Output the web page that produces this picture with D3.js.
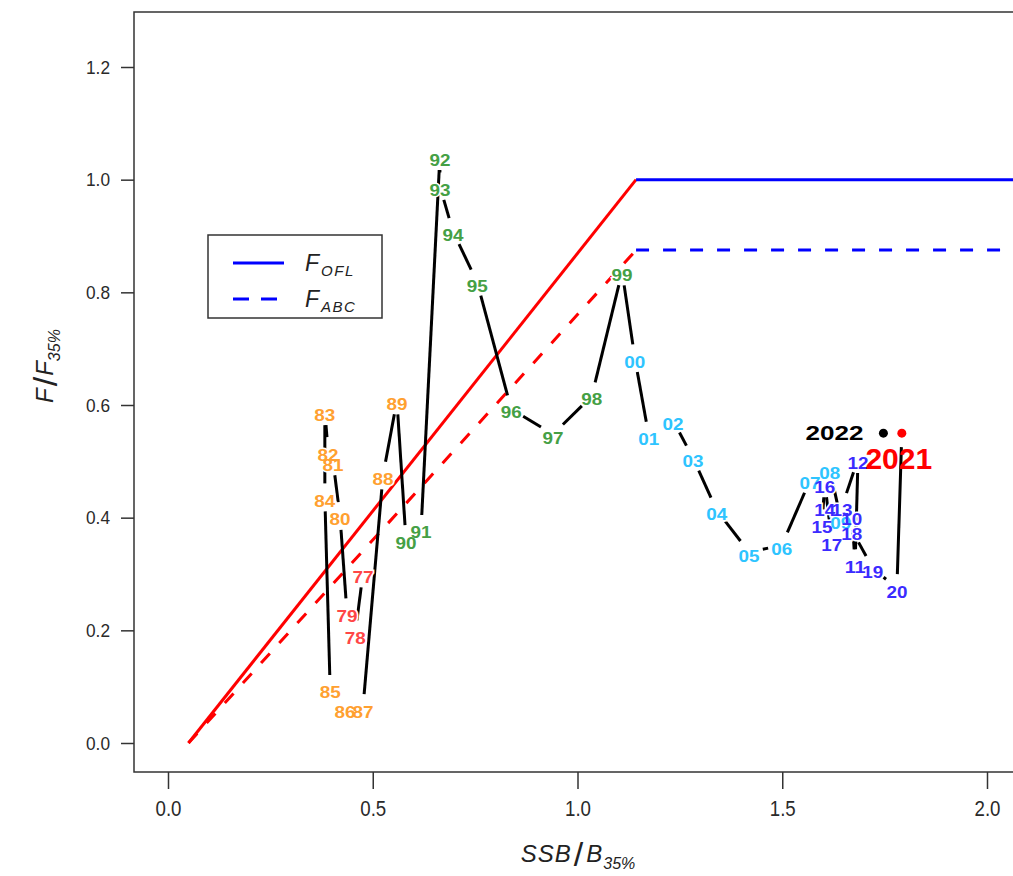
<!DOCTYPE html>
<html>
<head>
<meta charset="utf-8">
<script src="https://cdn.jsdelivr.net/npm/d3@7"></script>
<style>
  body { margin: 0; background: #fff; }
  svg { display: block; font-family: "Liberation Sans", Arial, sans-serif; }
</style>
</head>
<body>
<div id="chart"></div>
<script>
// assessment years, stock size and fishing mortality ratios
var years = [1977, 1978, 1979, 1980, 1981, 1982, 1983, 1984, 1985, 1986, 1987, 1988, 1989,
             1990, 1991, 1992, 1993, 1994, 1995, 1996, 1997, 1998, 1999,
             2000, 2001, 2002, 2003, 2004, 2005, 2006, 2007, 2008, 2009,
             2010, 2011, 2012, 2013, 2014, 2015, 2016, 2017, 2018, 2019, 2020, 2021, 2022];
var ssbRatio = [0.476, 0.457, 0.437, 0.420, 0.403, 0.391, 0.383, 0.383, 0.396, 0.432, 0.476, 0.525, 0.559,
                0.581, 0.618, 0.664, 0.664, 0.696, 0.755, 0.838, 0.940, 1.035, 1.109,
                1.140, 1.174, 1.233, 1.282, 1.340, 1.419, 1.499, 1.568, 1.616, 1.643,
                1.670, 1.678, 1.685, 1.646, 1.604, 1.597, 1.604, 1.621, 1.670, 1.721, 1.780, 1.792, 1.747];
var fRatio = [0.301, 0.193, 0.232, 0.403, 0.500, 0.518, 0.589, 0.436, 0.096, 0.062, 0.062, 0.475, 0.608,
              0.362, 0.380, 1.042, 0.988, 0.908, 0.818, 0.593, 0.548, 0.616, 0.837,
              0.683, 0.546, 0.573, 0.506, 0.413, 0.339, 0.351, 0.467, 0.486, 0.397,
              0.403, 0.319, 0.504, 0.420, 0.420, 0.390, 0.461, 0.358, 0.378, 0.310, 0.275, 0.550, 0.550];

// harvest control rule
var ruleX = [0.05, 1.143, 2.3];
var oflY = [0, 1.0, 1.0];
var abcY = [0, 0.875, 0.875];

var xTicks = [0, 0.5, 1.0, 1.5, 2.0];
var yTicks = [0, 0.2, 0.4, 0.6, 0.8, 1.0, 1.2];

var W = 1013, H = 876;
var box = {left: 134, top: 12, right: 1018, bottom: 772};

var x = d3.scaleLinear().domain([0, 2]).range([168, 987]);
var y = d3.scaleLinear().domain([0, 1.2]).range([743, 67]);

function yearColor(yr) {
    if (yr < 1980) return "#ff4646";
    if (yr < 1990) return "#ffa030";
    if (yr < 2000) return "#45a045";
    if (yr < 2010) return "#2ec4ff";
    return "#3b2bff";
}

var svg = d3.select("#chart").append("svg").attr("width", W).attr("height", H);

svg.append("defs").append("clipPath").attr("id", "plotclip")
    .append("rect").attr("x", box.left).attr("y", box.top)
    .attr("width", box.right - box.left).attr("height", box.bottom - box.top);

var plot = svg.append("g").attr("clip-path", "url(#plotclip)");

// control rule lines: red below the break, blue above
var rule = ruleX.map(function(d, i) { return {x: d, ofl: oflY[i], abc: abcY[i]}; });
var oflLine = d3.line().x(function(d) { return x(d.x); }).y(function(d) { return y(d.ofl); });
var abcLine = d3.line().x(function(d) { return x(d.x); }).y(function(d) { return y(d.abc); });

plot.append("path").datum(rule.slice(0, 2)).attr("d", oflLine)
    .attr("fill", "none").attr("stroke", "#ff0000").attr("stroke-width", 3);
plot.append("path").datum(rule.slice(1)).attr("d", oflLine)
    .attr("fill", "none").attr("stroke", "#0000ff").attr("stroke-width", 3);
plot.append("path").datum(rule.slice(0, 2)).attr("d", abcLine)
    .attr("fill", "none").attr("stroke", "#ff0000").attr("stroke-width", 3)
    .attr("stroke-dasharray", "13,14");
plot.append("path").datum(rule.slice(1)).attr("d", abcLine)
    .attr("fill", "none").attr("stroke", "#0000ff").attr("stroke-width", 3)
    .attr("stroke-dasharray", "13,14");

// trajectory, drawn R type="b" style with a gap round each point
var pts = years.map(function(yr, i) { return {year: yr, px: x(ssbRatio[i]), py: y(fRatio[i])}; });
var gap = 14;
var segs = [];
for (var i = 1; i < pts.length; i++) {
    var a = pts[i - 1], b = pts[i];
    var dx = b.px - a.px, dy = b.py - a.py, len = Math.sqrt(dx * dx + dy * dy);
    if (len <= 2 * gap + 1) continue;
    var ux = dx / len, uy = dy / len;
    segs.push({x1: a.px + ux * gap, y1: a.py + uy * gap, x2: b.px - ux * gap, y2: b.py - uy * gap});
}
plot.selectAll(".seg").data(segs).enter().append("line").attr("class", "seg")
    .attr("x1", function(d) { return d.x1; }).attr("y1", function(d) { return d.y1; })
    .attr("x2", function(d) { return d.x2; }).attr("y2", function(d) { return d.y2; })
    .attr("stroke", "#000").attr("stroke-width", 3);

// year labels (two passes: white halo first, then the coloured text)
var labelPts = pts.filter(function(d) { return d.year <= 2020; });
function yearLabel(sel) {
    sel.attr("x", function(d) { return d.px; })
        .attr("y", function(d) { return d.py + 4; })
        .attr("text-anchor", "middle").attr("dominant-baseline", "central")
        .attr("font-size", 17).attr("font-weight", "bold")
        .attr("textLength", 21).attr("lengthAdjust", "spacingAndGlyphs")
        .text(function(d) { return String(d.year).slice(2); });
}
plot.append("g").selectAll("text").data(labelPts).enter().append("text")
    .call(yearLabel).attr("fill", "#fff").attr("stroke", "#fff").attr("stroke-width", 3);
plot.append("g").selectAll("text").data(labelPts).enter().append("text")
    .call(yearLabel).attr("fill", function(d) { return yearColor(d.year); });

// last two years: dot plus a big label
var p21 = pts[years.indexOf(2021)], p22 = pts[years.indexOf(2022)];
plot.append("circle").attr("cx", p22.px).attr("cy", p22.py).attr("r", 4.5).attr("fill", "#000");
plot.append("circle").attr("cx", p21.px).attr("cy", p21.py).attr("r", 4.5).attr("fill", "#ff0000");
plot.append("text").attr("x", p22.px - 20).attr("y", p22.py).attr("text-anchor", "end")
    .attr("dominant-baseline", "central").attr("font-size", 20).attr("font-weight", "bold")
    .attr("textLength", 58).attr("lengthAdjust", "spacingAndGlyphs")
    .attr("fill", "#000").text("2022");
plot.append("text").attr("x", p21.px - 3).attr("y", p21.py + 25).attr("text-anchor", "middle")
    .attr("dominant-baseline", "central").attr("font-size", 30).attr("font-weight", "bold")
    .attr("fill", "#ff0000").text("2021");

// plot frame
svg.append("rect").attr("x", box.left).attr("y", box.top)
    .attr("width", box.right - box.left).attr("height", box.bottom - box.top)
    .attr("fill", "none").attr("stroke", "#333").attr("stroke-width", 1.5);

// axes
var yAxis = svg.append("g").attr("transform", "translate(" + box.left + ",0)")
    .call(d3.axisLeft(y).tickValues(yTicks).tickSize(13).tickPadding(11).tickFormat(d3.format(".1f")));
yAxis.select(".domain").remove();
yAxis.selectAll(".tick line").attr("stroke", "#333").attr("stroke-width", 1.5);
yAxis.selectAll(".tick text").attr("font-size", 19).attr("fill", "#2a2a2a")
    .attr("font-family", "Liberation Sans, Arial, sans-serif")
    .attr("textLength", 24).attr("lengthAdjust", "spacingAndGlyphs");

var xAxis = svg.append("g").attr("transform", "translate(0," + box.bottom + ")")
    .call(d3.axisBottom(x).tickValues(xTicks).tickSize(17).tickPadding(11).tickFormat(d3.format(".1f")));
xAxis.select(".domain").remove();
xAxis.selectAll(".tick line").attr("stroke", "#333").attr("stroke-width", 1.5);
xAxis.selectAll(".tick text").attr("font-size", 22).attr("fill", "#2a2a2a")
    .attr("font-family", "Liberation Sans, Arial, sans-serif")
    .attr("textLength", 26).attr("lengthAdjust", "spacingAndGlyphs");

// axis titles
var xt = svg.append("text").attr("x", 578).attr("y", 862).attr("text-anchor", "middle")
    .attr("font-size", 24).attr("font-style", "italic").attr("fill", "#222")
    .attr("letter-spacing", 1);
xt.append("tspan").text("SSB");
xt.append("tspan").attr("font-size", 34).attr("font-style", "normal").attr("dy", 4).attr("dx", 2).text("/");
xt.append("tspan").attr("dy", -4).attr("dx", 2).text("B");
xt.append("tspan").attr("font-size", 16).attr("dy", 7).attr("letter-spacing", 0).text("35%");

var yt = svg.append("text").attr("transform", "translate(53,366) rotate(-90)").attr("text-anchor", "middle")
    .attr("font-size", 24).attr("font-style", "italic").attr("fill", "#222");
yt.append("tspan").text("F");
yt.append("tspan").attr("font-size", 34).attr("font-style", "normal").attr("dy", 4).attr("dx", 2).text("/");
yt.append("tspan").attr("dy", -4).attr("dx", 1).text("F");
yt.append("tspan").attr("font-size", 16).attr("dy", 7).text("35%");

// legend
var lg = svg.append("g");
lg.append("rect").attr("x", 208).attr("y", 235).attr("width", 174).attr("height", 83)
    .attr("fill", "#fff").attr("stroke", "#333").attr("stroke-width", 1.5);
var legendItems = [{label: "OFL", dash: null, yy: 263}, {label: "ABC", dash: "16,12", yy: 299}];
legendItems.forEach(function(d) {
    lg.append("line").attr("x1", 233).attr("x2", 284).attr("y1", d.yy).attr("y2", d.yy)
        .attr("stroke", "#0000ff").attr("stroke-width", 3).attr("stroke-dasharray", d.dash);
    var t = lg.append("text").attr("x", 305).attr("y", d.yy + 8).attr("font-size", 23)
        .attr("font-style", "italic").attr("fill", "#222");
    t.append("tspan").text("F");
    t.append("tspan").attr("font-size", 15).attr("dy", 5).attr("dx", 2)
        .attr("letter-spacing", 1.5).text(d.label);
});
</script>
</body>
</html>
